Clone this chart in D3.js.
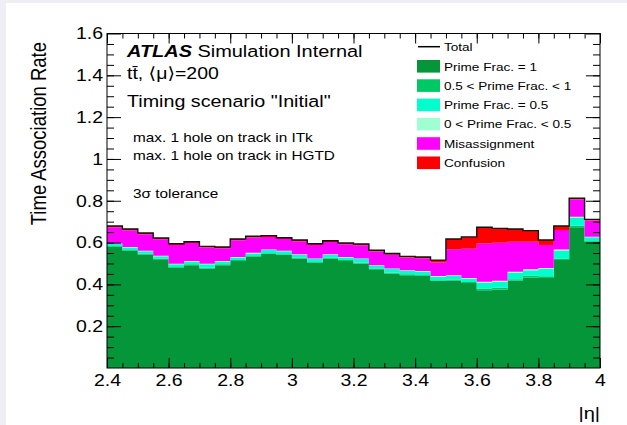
<!DOCTYPE html>
<html>
<head>
<meta charset="utf-8">
<script src="https://cdn.jsdelivr.net/npm/d3@7"></script>
<style>
  body { margin: 0; background: #fff; }
  svg { display: block; font-family: "Liberation Sans", Arial, Helvetica, "DejaVu Sans", sans-serif; }
</style>
</head>
<body>
<svg id="chart" width="627" height="425"></svg>
<script>
// bin edges in |eta|
var etaEdges = [2.40, 2.45, 2.50, 2.55, 2.60, 2.65, 2.70, 2.75, 2.80, 2.85, 2.90,
    2.95, 3.00, 3.05, 3.10, 3.15, 3.20, 3.25, 3.30, 3.35, 3.40,
    3.45, 3.50, 3.55, 3.60, 3.65, 3.70, 3.75, 3.80, 3.85, 3.90, 3.95, 4.00];
var xTicks = [2.4, 2.6, 2.8, 3.0, 3.2, 3.4, 3.6, 3.8, 4.0];
var yTicks = [0.2, 0.4, 0.6, 0.8, 1.0, 1.2, 1.4, 1.6];

// stacked contributions per bin
var primeFrac1 = [.580, .561, .542, .520, .479, .492, .476, .492, .512, .532, .545, .540, .524, .503, .523, .512,
    .500, .472, .452, .444, .441, .416, .419, .407, .372, .376, .417, .433, .431, .516, .673, .604];
var primeFracHigh = [.004, .004, .004, .004, .004, .004, .004, .004, .004, .004, .004, .004, .004, .004, .004, .004,
    .004, .004, .004, .004, .004, .004, .004, .004, .008, .008, .008, .008, .008, .008, .008, .004];
var primeFracHalf = [.009, .011, .012, .010, .013, .013, .016, .013, .012, .012, .015, .014, .013, .014, .014, .012,
    .017, .013, .017, .017, .016, .017, .018, .017, .027, .028, .030, .026, .034, .038, .038, .017];
var primeFracLow = [.003, .003, .003, .003, .003, .003, .003, .003, .003, .003, .003, .003, .003, .003, .003, .003,
    .003, .003, .003, .003, .003, .003, .003, .003, .005, .005, .005, .005, .005, .005, .005, .003];
var misassignment = [.077, .080, .079, .079, .089, .086, .077, .061, .080, .073, .060, .056, .062, .064, .059, .061,
    .063, .065, .066, .060, .061, .065, .124, .139, .184, .182, .144, .132, .110, .093, .082, .077];
var confusion = [.006, .006, .006, .006, .006, .006, .006, .006, .006, .006, .006, .006, .006, .006, .006, .006,
    .006, .006, .006, .006, .006, .011, .049, .057, .077, .069, .061, .053, .024, .019, .006, .006];

var layers = [
    { key: "pf1", label: "Prime Frac. = 1", color: "#05963a", values: primeFrac1 },
    { key: "pfHigh", label: "0.5 < Prime Frac. < 1", color: "#00c864", values: primeFracHigh },
    { key: "pfHalf", label: "Prime Frac. = 0.5", color: "#00ffcc", values: primeFracHalf },
    { key: "pfLow", label: "0 < Prime Frac. < 0.5", color: "#a0ffd2", values: primeFracLow },
    { key: "mis", label: "Misassignment", color: "#ff00ff", values: misassignment },
    { key: "conf", label: "Confusion", color: "#ff0000", values: confusion }
];

var SX = 1.18; // horizontal stretch of the text in the picture
var frameL = 107, frameR = 600, frameT = 33.5, frameB = 368;

var svg = d3.select("#chart");
svg.append("rect").attr("width", 627).attr("height", 425).attr("fill", "#efeef5");
svg.append("rect").attr("x", 6).attr("y", 3).attr("width", 621).attr("height", 422).attr("fill", "#fff");

var x = d3.scaleLinear().domain([2.4, 4]).range([frameL, frameR]);
var y = d3.scaleLinear().domain([0, 1.6]).range([frameB, frameT]);

var rows = etaEdges.slice(0, -1).map(function (e, i) {
    var r = { eta: e };
    layers.forEach(function (l) { r[l.key] = l.values[i]; });
    return r;
});
var stacked = d3.stack().keys(layers.map(function (l) { return l.key; }))(rows);

// step points, with an extra point closing the last bin
function stepPoints(series) {
    var pts = series.map(function (d, i) { return { x: etaEdges[i], y0: d[0], y1: d[1] }; });
    var last = series[series.length - 1];
    pts.push({ x: etaEdges[etaEdges.length - 1], y0: last[0], y1: last[1] });
    return pts;
}

var area = d3.area()
    .curve(d3.curveStepAfter)
    .x(function (d) { return x(d.x); })
    .y0(function (d) { return y(d.y0); })
    .y1(function (d) { return y(d.y1); });

var plot = svg.append("g");
stacked.forEach(function (s, i) {
    plot.append("path")
        .datum(stepPoints(s))
        .attr("d", area)
        .attr("fill", layers[i].color);
});

// total outline
var topLine = d3.line()
    .curve(d3.curveStepAfter)
    .x(function (d) { return x(d.x); })
    .y(function (d) { return y(d.y1); });
plot.append("path")
    .datum(stepPoints(stacked[stacked.length - 1]))
    .attr("d", topLine)
    .attr("fill", "none")
    .attr("stroke", "#111")
    .attr("stroke-width", 1.4);

// ticks, drawn inward on all four sides
var minorX = etaEdges, minorY = [];
for (var v = 0.05; v < 1.6; v += 0.05) minorY.push(+v.toFixed(2));

function tickAxis(axis, tx, ty) {
    var g = svg.append("g").attr("transform", "translate(" + tx + "," + ty + ")").call(axis);
    g.select(".domain").remove();
    g.selectAll("line").attr("stroke", "#000");
    return g;
}
tickAxis(d3.axisBottom(x).tickValues(minorX).tickSize(-5).tickFormat(""), 0, frameB);
tickAxis(d3.axisTop(x).tickValues(minorX).tickSize(-5).tickFormat(""), 0, frameT);
tickAxis(d3.axisTop(x).tickValues(xTicks).tickSize(-10).tickFormat(""), 0, frameT);
tickAxis(d3.axisLeft(y).tickValues(minorY).tickSize(-7).tickFormat(""), frameL, 0);
tickAxis(d3.axisRight(y).tickValues(minorY).tickSize(-7).tickFormat(""), frameR, 0);
tickAxis(d3.axisRight(y).tickValues(yTicks).tickSize(-14).tickFormat(""), frameR, 0);

var xAx = tickAxis(d3.axisBottom(x).tickValues(xTicks).tickSize(-10).tickPadding(6)
    .tickFormat(function (d) { return d3.format("")(+d.toFixed(1)); }), 0, frameB);
xAx.attr("font-family", null).attr("font-size", null);
xAx.selectAll("text").attr("fill", "#000").style("font-size", "16.5px")
    .attr("transform", "scale(" + SX + ",1)");

var yAx = tickAxis(d3.axisLeft(y).tickValues(yTicks).tickSize(-14).tickPadding(4)
    .tickFormat(function (d) { return d3.format("")(+d.toFixed(1)); }), frameL, 0);
yAx.attr("font-family", null).attr("font-size", null);
yAx.selectAll("text").attr("fill", "#000").style("font-size", "16.5px")
    .attr("x", -4 / SX).attr("transform", "scale(" + SX + ",1)");

svg.append("rect")
    .attr("x", frameL).attr("y", frameT)
    .attr("width", frameR - frameL).attr("height", frameB - frameT)
    .attr("fill", "none").attr("stroke", "#000").attr("stroke-width", 1);

// text helper
function label(px, py, size, anchor, extra) {
    return svg.append("text")
        .attr("transform", "translate(" + px + "," + py + ") scale(" + SX + ",1)" + (extra || ""))
        .attr("text-anchor", anchor || "start")
        .style("font-size", size + "px")
        .attr("fill", "#000");
}

label(46, 42, 18.5, "end", " rotate(-90)").text("Time Association Rate");
label(600, 419, 17, "end").text("|η|");

var atlas = label(127, 56.5, 16.9);
atlas.append("tspan").attr("font-weight", "bold").attr("font-style", "italic").text("ATLAS");
atlas.append("tspan").text(" Simulation Internal");
label(127, 79, 16.5).text("t\u0074\u0304, \u27E8\u03BC\u27E9=200");
label(127, 107, 16.7).text("Timing scenario \"Initial\"");
label(133, 142, 13).text("max. 1 hole on track in ITk");
label(133, 160, 13).text("max. 1 hole on track in HGTD");
label(133, 198, 13).text("3\u03C3 tolerance");

// legend
var legX = 418, legText = 444;
svg.append("line").attr("x1", legX).attr("x2", legX + 22).attr("y1", 46.7).attr("y2", 46.7)
    .attr("stroke", "#000").attr("stroke-width", 1.5);
label(legText, 50.8, 11.5).text("Total");
layers.forEach(function (l, i) {
    var cy = 66.3 + i * 19.3;
    svg.append("rect").attr("x", legX - 1).attr("y", cy - 6.3).attr("width", 23).attr("height", 12.6)
        .attr("fill", l.color);
    label(legText, cy + 4.2, 11.5).text(l.label);
});
</script>
</body>
</html>
